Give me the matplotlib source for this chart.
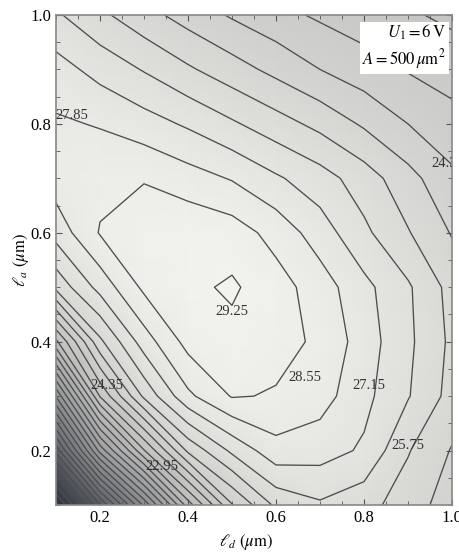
import numpy as np
import matplotlib
matplotlib.use('Agg')
import matplotlib.pyplot as plt
from matplotlib.colors import LinearSegmentedColormap
from matplotlib.ticker import MultipleLocator

plt.rcParams['font.family'] = 'Liberation Serif'
plt.rcParams['mathtext.fontset'] = 'stix'

# grid of l_d (x) and l_a (y) in um
l_d = [0.1, 0.2, 0.3, 0.4, 0.5, 0.6, 0.7, 0.8, 0.9, 1.0]
l_a = [0.1, 0.2, 0.3, 0.4, 0.5, 0.6, 0.7, 0.8, 0.9, 1.0]

# values, one row per l_a
row_a010 = [8.0, 12.4, 16.8, 21.2, 24.3, 25.9, 26.35, 26.0, 25.4, 24.7]
row_a020 = [12.7, 18.3, 22.2, 25.2, 26.6, 27.6, 27.45, 27.05, 25.8, 25.0]
row_a030 = [17.4, 23.0, 25.9, 27.7, 28.6, 28.5, 28.15, 27.35, 26.5, 25.5]
row_a040 = [22.1, 25.6, 27.5, 28.8, 29.05, 28.75, 28.45, 27.5, 26.6, 25.6]
row_a050 = [25.95, 27.4, 28.7, 29.1, 29.35, 28.85, 28.2, 27.35, 26.55, 25.5]
row_a060 = [27.42, 28.6, 29.0, 29.1, 28.9, 28.3, 27.5, 26.6, 25.8, 25.0]
row_a070 = [28.2, 28.35, 28.5, 28.15, 27.8, 27.25, 26.75, 26.1, 25.3, 24.5]
row_a080 = [27.95, 27.8, 27.45, 27.05, 26.55, 26.05, 25.55, 24.95, 24.35, 23.9]
row_a090 = [27.44, 26.9, 26.4, 25.85, 25.35, 24.85, 24.35, 23.95, 23.6, 23.35]
row_a100 = [26.55, 25.9, 25.3, 24.76, 24.27, 23.87, 23.54, 23.29, 23.04, 22.8]

# contour labels and where they sit
label_levels = [29.25, 28.55, 27.85, 27.15, 25.75, 24.35, 22.95, 24.35]
label_pos = [(0.50, 0.455), (0.665, 0.335), (0.135, 0.815), (0.81, 0.32),
             (0.90, 0.21), (0.215, 0.32), (0.34, 0.17), (0.99, 0.728)]


def main():
    X, Y = np.meshgrid(l_d, l_a)
    Z = np.array([row_a010, row_a020, row_a030, row_a040, row_a050,
                  row_a060, row_a070, row_a080, row_a090, row_a100])

    levels = np.round(np.arange(29.25, Z.min(), -0.7)[::-1], 2)

    cmap = LinearSegmentedColormap.from_list(
        'paper_gray',
        [(0.0, (0.16, 0.18, 0.22)), (0.6, (0.72, 0.72, 0.72)),
         (1.0, (0.955, 0.955, 0.935))])

    fig = plt.figure(figsize=(4.59, 5.53), dpi=100)
    ax = fig.add_axes([56/459, 1 - 505/553, 396/459, 490/553])

    ax.pcolormesh(X, Y, Z, shading='gouraud', cmap=cmap,
                  vmin=Z.min(), vmax=Z.max())
    ax.contour(X, Y, Z, levels=levels, colors='#4d4d4d', linewidths=0.95)

    for lev, (px, py) in zip(label_levels, label_pos):
        ax.text(px, py, f'{lev:.2f}', ha='center', va='center', fontsize=10.5,
                color='#333333', clip_on=True)

    ax.text(0.985, 0.985, '$U_1 = 6\\,\\mathrm{V}$\n$A = 500\\,\\mu\\mathrm{m}^2$',
            transform=ax.transAxes, ha='right', va='top', fontsize=12,
            linespacing=1.3,
            bbox=dict(facecolor='white', edgecolor='none', pad=2))

    ax.set_xlim(0.1, 1.0)
    ax.set_ylim(0.1, 1.0)
    ax.xaxis.set_minor_locator(MultipleLocator(0.05))
    ax.yaxis.set_minor_locator(MultipleLocator(0.05))
    ax.set_xticks([0.2, 0.4, 0.6, 0.8, 1.0])
    ax.set_yticks([0.2, 0.4, 0.6, 0.8, 1.0])
    ax.set_xticklabels(['0.2', '0.4', '0.6', '0.8', '1.0'])
    ax.set_yticklabels(['0.2', '0.4', '0.6', '0.8', '1.0'])
    ax.tick_params(which='both', direction='in', top=True, right=True,
                   color='#555555', labelsize=12)
    ax.tick_params(which='major', length=4)
    ax.tick_params(which='minor', length=3)
    for s in ax.spines.values():
        s.set_color('#888888')
        s.set_linewidth(1.2)

    ax.set_xlabel('$\\ell_d\\ (\\mu\\mathrm{m})$', fontsize=12)
    ax.set_ylabel('$\\ell_a\\ (\\mu\\mathrm{m})$', fontsize=12)
    ax.xaxis.set_label_coords(0.48, -0.056)
    ax.yaxis.set_label_coords(-0.063, 0.5)

    fig.savefig('out.png', dpi=100)


if __name__ == '__main__':
    main()
